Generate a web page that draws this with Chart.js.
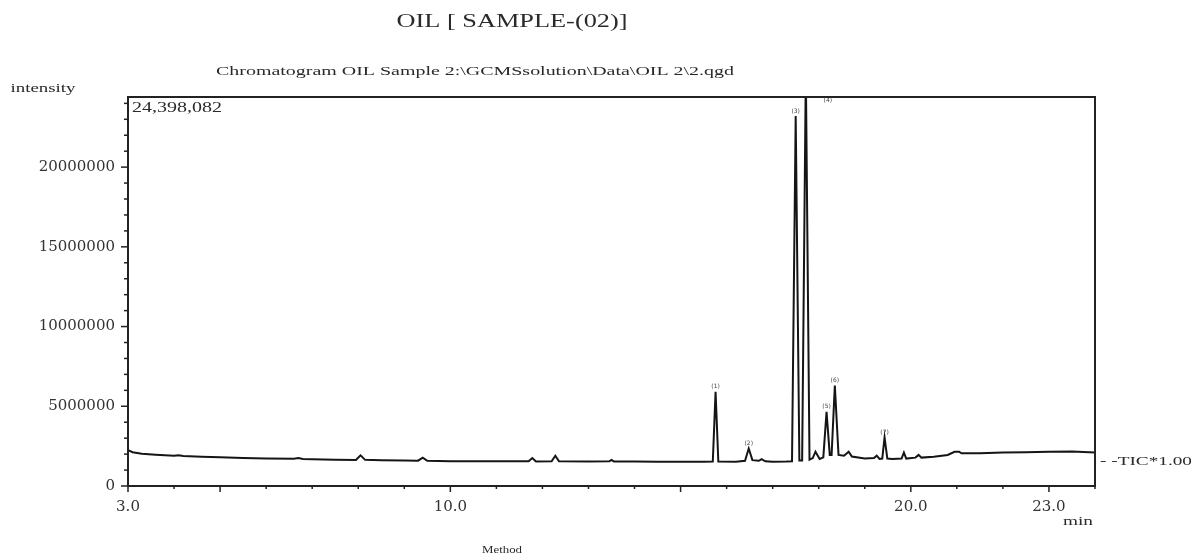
<!DOCTYPE html>
<html lang="en">
<head>
    <meta charset="UTF-8">
    <title>OIL [ SAMPLE-(02)]</title>
    <script src="https://cdn.jsdelivr.net/npm/chart.js"></script>
    <style>
        body { margin: 0; background: #fff; }
        #wrap { width: 1194px; height: 558px; position: relative; }
    </style>
</head>
<body>
    <div id="wrap"><canvas id="myChart"></canvas></div>

    <script>
        // Retention time (min) and TIC intensity
        const retentionTime = [
            3.00, 3.10, 3.30, 3.60, 4.00, 4.10, 4.20, 4.60, 5.00, 5.50,
            6.00, 6.60, 6.70, 6.80, 7.00, 7.50, 7.95, 8.05, 8.15, 8.50,
            9.00, 9.30, 9.40, 9.50, 10.00, 10.50, 11.00, 11.70, 11.78, 11.86,
            12.20, 12.28, 12.36, 13.00, 13.45, 13.50, 13.55, 14.00, 14.50, 15.00,
            15.50, 15.70, 15.76, 15.82, 16.20, 16.40, 16.48, 16.56, 16.70, 16.76,
            16.84, 17.00, 17.30, 17.42, 17.50, 17.58, 17.64, 17.72, 17.80, 17.87,
            17.93, 18.02, 18.10, 18.17, 18.24, 18.28, 18.35, 18.43, 18.55, 18.65,
            18.72, 19.00, 19.20, 19.26, 19.32, 19.38, 19.43, 19.49, 19.60, 19.80,
            19.85, 19.90, 20.10, 20.17, 20.23, 20.50, 20.80, 20.95, 21.05, 21.10,
            21.50, 22.00, 22.50, 23.00, 23.50, 24.00
        ];
        const intensity = [
            2250000, 2120000, 2020000, 1960000, 1900000, 1930000, 1880000, 1840000, 1800000, 1760000,
            1730000, 1710000, 1750000, 1690000, 1680000, 1650000, 1630000, 1920000, 1640000, 1620000,
            1600000, 1590000, 1780000, 1580000, 1560000, 1550000, 1550000, 1550000, 1750000, 1540000,
            1550000, 1900000, 1550000, 1540000, 1550000, 1630000, 1540000, 1530000, 1520000, 1520000,
            1520000, 1530000, 5910000, 1530000, 1520000, 1580000, 2350000, 1620000, 1580000, 1680000,
            1550000, 1520000, 1530000, 1550000, 23200000, 1600000, 1600000, 26000000, 1650000, 1750000,
            2150000, 1700000, 1800000, 4650000, 1950000, 1950000, 6300000, 1950000, 1900000, 2150000,
            1850000, 1720000, 1750000, 1900000, 1700000, 1720000, 3050000, 1720000, 1700000, 1720000,
            2100000, 1720000, 1780000, 1950000, 1780000, 1830000, 1950000, 2150000, 2150000, 2050000,
            2050000, 2100000, 2120000, 2150000, 2170000, 2100000
        ];

        // Axis ticks (every minute / every 1,000,000 counts; labels only on some)
        const xTicks = [3, 4, 5, 6, 7, 8, 9, 10, 11, 12, 13, 14, 15, 16, 17, 18, 19, 20, 21, 22, 23, 24];
        const xTickValues = [3, 10, 20, 23];
        const xTickLabels = ['3.0', '10.0', '20.0', '23.0'];
        const yTicks = [
            0, 1000000, 2000000, 3000000, 4000000, 5000000, 6000000, 7000000, 8000000, 9000000,
            10000000, 11000000, 12000000, 13000000, 14000000, 15000000, 16000000, 17000000,
            18000000, 19000000, 20000000, 21000000, 22000000, 23000000, 24000000
        ];
        const yTickValues = [0, 5000000, 10000000, 15000000, 20000000];
        const yMax = 24398082;

        // Peak annotations
        const peakRt = [15.76, 16.48, 17.50, 17.72, 18.17, 18.35, 19.43];
        const peakTop = [5910000, 2350000, 23200000, 24398082, 4650000, 6300000, 3050000];
        const peakNo = ['1', '2', '3', '4', '5', '6', '7'];

        const points = retentionTime.map((t, i) => ({ x: t, y: intensity[i] }));

        // Draws text squeezed/stretched horizontally to a given width
        function fitText(ctx, text, cx, cy, width, size) {
            ctx.save();
            ctx.font = size + 'px "Liberation Serif", "Times New Roman", serif';
            const w = ctx.measureText(text).width;
            ctx.translate(cx, cy);
            ctx.scale(width / w, 1);
            ctx.textAlign = 'center';
            ctx.textBaseline = 'middle';
            ctx.fillText(text, 0, 0);
            ctx.restore();
        }

        const decorations = {
            id: 'decorations',
            afterDraw(chart) {
                const { ctx, chartArea: a, scales: { x, y } } = chart;
                ctx.save();

                // frame
                ctx.strokeStyle = '#222';
                ctx.lineWidth = 2;
                ctx.strokeRect(a.left, a.top, a.right - a.left, a.bottom - a.top);

                // tick marks
                ctx.lineWidth = 1.5;
                x.ticks.forEach(t => {
                    const px = x.getPixelForValue(t.value);
                    const len = (t.value % 5 === 0 || xTickValues.includes(t.value)) ? 6 : 3;
                    ctx.beginPath();
                    ctx.moveTo(px, a.bottom);
                    ctx.lineTo(px, a.bottom + len);
                    ctx.stroke();
                });
                y.ticks.forEach(t => {
                    const py = y.getPixelForValue(t.value);
                    const len = t.value % 5000000 === 0 ? 7 : 4;
                    ctx.beginPath();
                    ctx.moveTo(a.left - len, py);
                    ctx.lineTo(a.left, py);
                    ctx.stroke();
                });

                // peak number marks
                ctx.fillStyle = '#444';
                ctx.font = '6px "DejaVu Sans", sans-serif';
                ctx.textAlign = 'center';
                ctx.textBaseline = 'bottom';
                peakRt.forEach((rt, i) => {
                    let px = x.getPixelForValue(rt);
                    let py = y.getPixelForValue(peakTop[i]) - 2;
                    if (peakTop[i] >= yMax) { px += 22; py += 8; }
                    ctx.fillText('(' + peakNo[i] + ')', px, py);
                });

                // texts
                ctx.fillStyle = '#2a2a2a';
                fitText(ctx, 'OIL [ SAMPLE-(02)]', 512, 22, 231, 18);
                fitText(ctx, 'Chromatogram OIL Sample 2:\\GCMSsolution\\Data\\OIL 2\\2.qgd', 475, 72, 518, 12);
                fitText(ctx, 'intensity', 43, 89, 65, 12);
                fitText(ctx, '24,398,082', 177, 108, 90, 14);
                fitText(ctx, 'min', 1078, 522, 30, 13);
                fitText(ctx, '- -TIC*1.00', 1146, 462, 92, 13);
                fitText(ctx, 'Method', 502, 550, 40, 10);

                ctx.restore();
            }
        };

        const config = {
            type: 'line',
            data: {
                datasets: [{
                    label: 'TIC*1.00',
                    data: points,
                    borderColor: '#151515',
                    borderWidth: 2,
                    pointRadius: 0,
                    tension: 0
                }]
            },
            options: {
                responsive: true,
                maintainAspectRatio: false,
                animation: false,
                layout: { padding: { left: 0, right: 99, top: 97, bottom: 0 } },
                plugins: {
                    legend: { display: false },
                    tooltip: { enabled: false }
                },
                scales: {
                    x: {
                        type: 'linear',
                        min: 3,
                        max: 24,
                        grid: { display: false },
                        border: { display: false },
                        afterFit: s => { s.height = 72; },
                        afterBuildTicks: s => { s.ticks = xTicks.map(v => ({ value: v })); },
                        ticks: {
                            autoSkip: false,
                            maxRotation: 0,
                            padding: 4,
                            color: '#333',
                            font: { family: '"DejaVu Serif", serif', size: 15 },
                            callback: v => {
                                const i = xTickValues.indexOf(v);
                                return i >= 0 ? xTickLabels[i] : '';
                            }
                        }
                    },
                    y: {
                        type: 'linear',
                        min: 0,
                        max: yMax,
                        grid: { display: false },
                        border: { display: false },
                        afterFit: s => { s.width = 128; },
                        afterBuildTicks: s => { s.ticks = yTicks.map(v => ({ value: v })); },
                        ticks: {
                            autoSkip: false,
                            padding: 5,
                            color: '#333',
                            font: { family: '"DejaVu Serif", serif', size: 15 },
                            callback: v => yTickValues.includes(v) ? String(v) : ''
                        }
                    }
                }
            },
            plugins: [decorations]
        };

        const ctx = document.getElementById('myChart').getContext('2d');
        new Chart(ctx, config);
    </script>
</body>
</html>
